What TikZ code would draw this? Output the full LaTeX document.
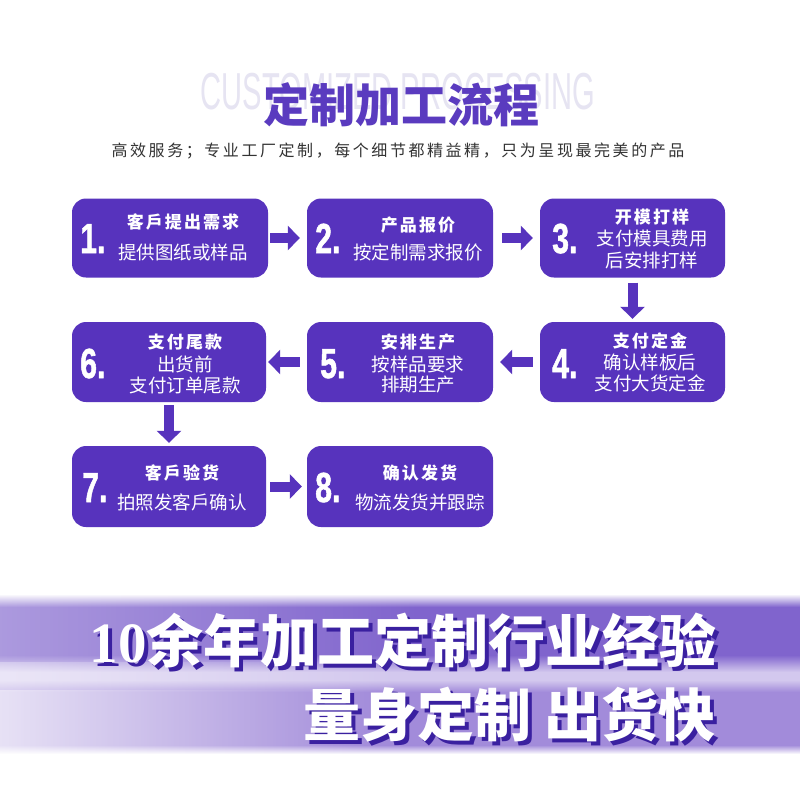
\documentclass[tikz,border=0pt]{standalone}
\usepackage{fontspec}
\usetikzlibrary{arrows.meta,fadings}
\newfontfamily\cjk{Noto Sans CJK SC}
\newfontfamily\numfont{Liberation Sans Bold}[FakeBold=1.5]
\newfontfamily\bgfont{Liberation Sans}
\newfontfamily\serifnum{Liberation Serif Bold}
\definecolor{boxc}{HTML}{5733BD}
\definecolor{titlec}{HTML}{5A3BBF}
\definecolor{shadowc}{HTML}{3A20A0}
\definecolor{bandA}{HTML}{8064CD}
\definecolor{gapc}{HTML}{D3C8EE}
\definecolor{bandB}{HTML}{A28BDA}
\definecolor{subc}{HTML}{333333}
\definecolor{bgword}{HTML}{E6E4F2}
\tikzfading[name=fadeleft, left color=transparent!0, right color=transparent!100]
\tikzset{
  box/.style={fill=boxc, rounded corners=14pt, minimum height=79pt, inner sep=0pt},
  num/.style={text=white, font=\numfont\fontsize{42}{42}\selectfont, inner sep=0pt, anchor=base west},
  tline/.style={text=white, font=\cjk\bfseries\fontsize{17}{17}\selectfont\addfontfeature{LetterSpace=12}, inner sep=0pt},
  rline/.style={text=white, font=\cjk\fontsize{18.5}{18.5}\selectfont, inner sep=0pt},
  blk/.style={draw=boxc, line width=10pt, -{Triangle[length=12pt,width=24pt]}},
  bigtxt/.style={font=\cjk\bfseries\fontsize{57}{57}\selectfont, inner sep=0pt}
}
\begin{document}
\begin{tikzpicture}[x=1pt,y=1pt]
\fill[white] (0,0) rectangle (800,-800);
\useasboundingbox (0,0) rectangle (800,-800);

% header
\node[text=bgword, font=\bgfont\fontsize{52}{52}\selectfont, inner sep=0pt] (bgw) at (398,-91.5) {\scalebox{0.56}[1]{CUSTOMIZED PROCESSING}};
\node[text=titlec, font=\cjk\bfseries\fontsize{46}{46}\selectfont, inner sep=0pt] (title) at (401,-105) {定制加工流程};
\node[text=subc, font=\cjk\fontsize{16}{16}\selectfont\addfontfeature{LetterSpace=16}, inner sep=0pt] (sub) at (398,-151) {高效服务；专业工厂定制，每个细节都精益精，只为呈现最完美的产品};

% boxes
\node[box, minimum width=196pt] (b1) at (170,-238) {};
\node[box, minimum width=186pt] (b2) at (400,-238) {};
\node[box, minimum width=185pt] (b3) at (632.5,-238) {};
\node[box, minimum width=185pt, minimum height=80pt] (b4) at (632.5,-362) {};
\node[box, minimum width=186pt, minimum height=80pt] (b5) at (400,-362) {};
\node[box, minimum width=194pt, minimum height=80pt] (b6) at (169,-362) {};
\node[box, minimum width=194pt, minimum height=81pt] (b7) at (169,-486.5) {};
\node[box, minimum width=186pt, minimum height=81pt] (b8) at (400,-486.5) {};

% numbers
\node[num] (n1) at (80,-253) {\scalebox{0.72}[1]{1.}};
\node[num] (n2) at (315,-253) {\scalebox{0.72}[1]{2.}};
\node[num] (n3) at (552,-253) {\scalebox{0.72}[1]{3.}};
\node[num] (n4) at (552,-378) {\scalebox{0.72}[1]{4.}};
\node[num] (n5) at (320,-378) {\scalebox{0.72}[1]{5.}};
\node[num] (n6) at (80,-378) {\scalebox{0.72}[1]{6.}};
\node[num] (n7) at (82,-502) {\scalebox{0.72}[1]{7.}};
\node[num] (n8) at (315,-502) {\scalebox{0.72}[1]{8.}};

% texts
\node[tline] (t1a) at (183,-222) {客戶提出需求};
\node[rline] (t1b) at (183,-252) {提供图纸或样品};
\node[tline] (t2a) at (418,-225) {产品报价};
\node[rline] (t2b) at (418,-252) {按定制需求报价};
\node[tline] (t3a) at (652,-217) {开模打样};
\node[rline] (t3b) at (652,-239) {支付模具费用};
\node[rline] (t3c) at (652,-260) {后安排打样};
\node[tline] (t4a) at (650,-341) {支付定金};
\node[rline] (t4b) at (650,-362) {确认样板后};
\node[rline] (t4c) at (650,-383) {支付大货定金};
\node[tline] (t5a) at (418,-342) {安排生产};
\node[rline] (t5b) at (418,-364) {按样品要求};
\node[rline] (t5c) at (418,-385) {排期生产};
\node[tline] (t6a) at (185,-342) {支付尾款};
\node[rline] (t6b) at (185,-364) {出货前};
\node[rline] (t6c) at (185,-385) {支付订单尾款};
\node[tline] (t7a) at (182,-473) {客戶验货};
\node[rline] (t7b) at (182,-502) {拍照发客戶确认};
\node[tline] (t8a) at (420,-473) {确认发货};
\node[rline] (t8b) at (420,-502) {物流发货并跟踪};

% arrows
\draw[blk, shorten <=2pt, shorten >=7pt] (b1.east) -- (b2.west);
\draw[blk, shorten <=9pt, shorten >=7pt] (b2.east) -- (b3.west);
\draw[blk, shorten <=5pt, shorten >=3pt] (b3.south) -- (b4.north);
\draw[blk, shorten <=7pt, shorten >=7pt] (b4.west) -- (b5.east);
\draw[blk, shorten <=7pt, shorten >=2pt] (b5.west) -- (b6.east);
\draw[blk, shorten <=3pt, shorten >=3pt] (b6.south) -- (b7.north);
\draw[blk, shorten <=4pt, shorten >=5pt] (b7.east) -- (b8.west);

% banner
\shade[top color=white, bottom color=bandA] (0,-594) rectangle (800,-607);
\fill[bandA] (0,-607) rectangle (800,-655);
\shade[top color=bandA, bottom color=gapc] (0,-655) rectangle (800,-672);
\fill[gapc] (0,-672) rectangle (800,-680);
\shade[top color=gapc, bottom color=bandB] (0,-680) rectangle (800,-692);
\fill[bandB] (0,-692) rectangle (800,-745);
\shade[top color=bandB, bottom color=white] (0,-745) rectangle (800,-754);
\fill[white, path fading=fadeleft, opacity=.35] (0,-590) rectangle (420,-662);
\fill[white, path fading=fadeleft, opacity=.55] (0,-662) rectangle (400,-690);
\fill[white, path fading=fadeleft, opacity=.75] (0,-690) rectangle (380,-760);

\node[bigtxt, text=shadowc] (l1s) at (407,-644) {{\serifnum 10}余年加工定制行业经验};
\node[bigtxt, text=white] (l1) at (403,-640) {{\serifnum 10}余年加工定制行业经验};
\node[bigtxt, text=shadowc, anchor=east] (l2s) at (720,-719) {量身定制 出货快};
\node[bigtxt, text=white, anchor=east] (l2) at (716,-715) {量身定制 出货快};
\end{tikzpicture}
\end{document}
